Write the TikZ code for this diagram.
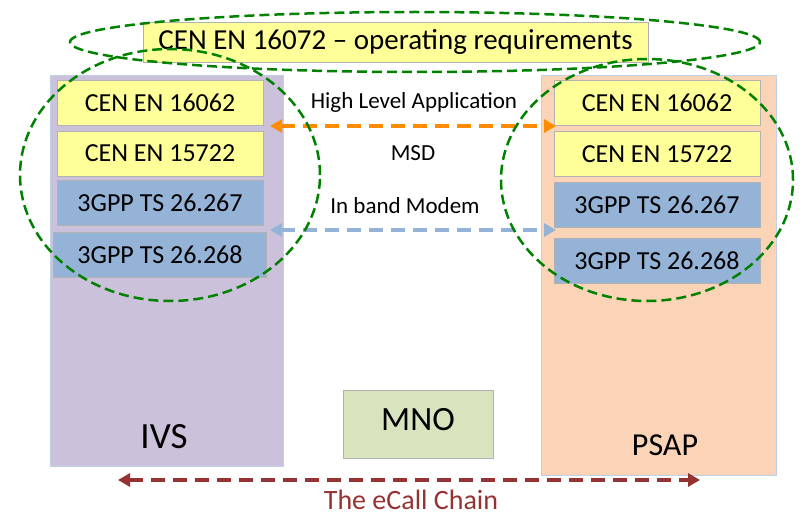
\documentclass[tikz,border=0pt]{standalone}
\usepackage{fontspec}
\setmainfont{Carlito}
\usetikzlibrary{arrows.meta}
\definecolor{ivsfill}{RGB}{204,193,218}
\definecolor{psapfill}{RGB}{251,212,183}
\definecolor{stdyellow}{RGB}{255,255,153}
\definecolor{stdblue}{RGB}{149,179,215}
\definecolor{mnogreen}{RGB}{215,228,189}
\definecolor{ringgreen}{RGB}{0,130,0}
\definecolor{chainred}{RGB}{150,50,50}
\begin{document}
\begin{tikzpicture}[
            x = 1pt, y = -1pt,
            > = {Triangle[length=12pt,width=13pt]},
            std/.style = {draw=gray!60, minimum height=45pt, inner sep=0pt, font=\fontsize{26}{30}\selectfont},
            ystd/.style = {std, fill=stdyellow},
            bstd/.style = {std, fill=stdblue},
            link/.style = {line width=3.5pt, dash pattern=on 14pt off 8pt, <->},
            ring/.style = {draw=ringgreen, line width=2.5pt, dash pattern=on 10pt off 5pt}
        ]
        \useasboundingbox (0,0) rectangle (804,519);

        % columns
        \node (IVS) [draw=stdblue!60, fill=ivsfill, minimum width=233pt, minimum height=391pt] at (166.5,270.5) {};
        \node (PSAP) [draw=stdblue!60, fill=psapfill, minimum width=235pt, minimum height=400pt] at (658.5,275) {};
        \node (IVSL) at (164,437) {\fontsize{37}{40}\selectfont IVS};
        \node (PSAPL) at (665,445) {\fontsize{32}{36}\selectfont PSAP};
        \node (MNO) [draw=gray!60, fill=mnogreen, minimum width=150pt, minimum height=68pt] at (418,424) {};
        \node (MNOL) at (418,420) {\fontsize{34}{38}\selectfont MNO};

        % top
        \node (REQ) [std, fill=stdyellow, minimum width=505pt, minimum height=40pt, font=\fontsize{29}{32}\selectfont] at (395.5,42) {CEN EN 16072 -- operating requirements};

        % IVS stack
        \node (L1) [ystd, minimum width=206pt] at (160,102.5) {CEN EN 16062};
        \node (L2) [ystd, minimum width=206pt] at (160,153.5) {CEN EN 15722};
        \node (L3) [bstd, minimum width=206pt] at (160,202.5) {3GPP TS 26.267};
        \node (L4) [bstd, minimum width=213pt] at (160,255) {3GPP TS 26.268};

        % PSAP stack
        \node (R1) [ystd, minimum width=206pt] at (657,103) {CEN EN 16062};
        \node (R2) [ystd, minimum width=206pt] at (657,154) {CEN EN 15722};
        \node (R3) [bstd, minimum width=206pt] at (657,204.5) {3GPP TS 26.267};
        \node (R4) [bstd, minimum width=206pt] at (657,260.5) {3GPP TS 26.268};

        % links
        \coordinate (HA) at (270,126);
        \coordinate (HB) at (556,126);
        \draw[link, draw=orange!90!yellow] (HA) -- (HB);
        \node (HLA) at (414,102) {\fontsize{23}{26}\selectfont High Level Application};
        \node (MSD) at (413,153) {\fontsize{23}{26}\selectfont MSD};
        \coordinate (BA) at (270,230);
        \coordinate (BB) at (556,230);
        \draw[link, draw=stdblue] (BA) -- (BB);
        \node (IBM) at (405,206) {\fontsize{23}{26}\selectfont In band Modem};

        % chain
        \coordinate (CA) at (118,480);
        \coordinate (CB) at (700,480);
        \draw[link, draw=chainred] (CA) -- (CB);
        \node (CHAIN) [text=chainred] at (411,500) {\fontsize{28}{32}\selectfont The eCall Chain};

        % scopes
        \draw[ring] (415,42) ellipse [x radius=345pt, y radius=30pt];
        \draw[ring] (170,175) ellipse [x radius=150pt, y radius=126pt];
        \draw[ring] (647,180) ellipse [x radius=146pt, y radius=121pt];
\end{tikzpicture}
\end{document}
